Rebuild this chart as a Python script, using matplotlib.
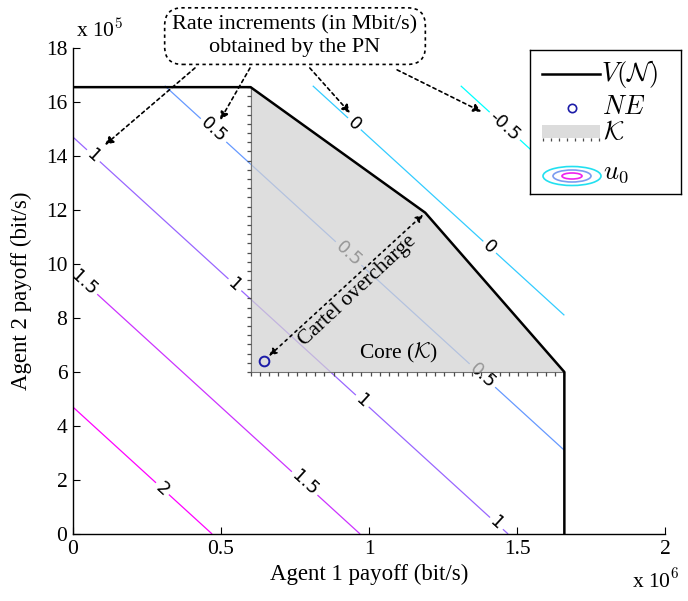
"""Core / Nash equilibrium payoff region with u0 rate-increment contours."""

import numpy as np
import matplotlib
matplotlib.use("Agg")
import matplotlib.pyplot as plt
from matplotlib.patches import Polygon, Ellipse, Rectangle

plt.rcParams["font.family"] = "Liberation Serif"
plt.rcParams["mathtext.fontset"] = "cm"

# Grand coalition frontier V(N) (bit/s)
v_x = [0, 0.6e6, 1.19e6, 1.66e6, 1.66e6]
v_y = [16.55e5, 16.55e5, 11.9e5, 6.0e5, 0]

# Core K polygon
core_x = [0.6e6, 0.6e6, 1.66e6, 1.19e6, 0.6e6]
core_y = [16.55e5, 6.0e5, 6.0e5, 11.9e5, 16.55e5]

# Nash equilibrium
ne_x, ne_y = 0.645e6, 6.42e5

# u0 (Mbit/s) = (u0_sum - x1 - x2) / 1e6, drawn over [0, grid_max]^2
u0_sum = 2.47e6
grid_max = 1.66e6
u0_levels = [-0.5, 0, 0.5, 1, 1.5, 2]
label_pos = [(0.304e6, 1.70e5), (0.784e6, 1.89e5), (1.432e6, 0.41e5),
             (0.98e6, 4.96e5), (0.04e6, 9.33e5), (0.068e6, 14.0e5),
             (0.571e6, 9.52e5), (0.473e6, 14.93e5), (0.926e6, 10.33e5),
             (1.38e6, 5.83e5), (0.953e6, 15.22e5), (1.405e6, 10.59e5),
             (1.453e6, 15.04e5)]

# PN annotation arrows: (start, target)
pn_arrows = [((0.412e6, 17.26e5), (0.108e6, 14.41e5)),
             ((0.598e6, 17.26e5), (0.497e6, 15.33e5)),
             ((0.80e6, 17.26e5), (0.936e6, 15.59e5)),
             ((1.095e6, 17.19e5), (1.38e6, 15.64e5))]

x_ticks = [0, 0.5e6, 1e6, 1.5e6, 2e6]
x_tick_labels = ["0", "0.5", "1", "1.5", "2"]
y_ticks = np.arange(0, 19e5, 2e5)
y_tick_labels = [str(int(t / 1e5)) for t in y_ticks]

fig = plt.figure(figsize=(6.88, 6.01), dpi=100)
ax = fig.add_axes([73 / 688, 1 - 534 / 601, 592 / 688, 486 / 601])
ax.set_xlim(0, 2e6)
ax.set_ylim(0, 18e5)

# contours
gx = np.linspace(0, grid_max, 300)
X, Y = np.meshgrid(gx, gx)
Z = (u0_sum - X - Y) / 1e6
cs = ax.contour(X, Y, Z, levels=u0_levels, cmap="cool", linewidths=0.9)
with plt.rc_context({"font.family": "DejaVu Sans"}):
    ax.clabel(cs, manual=label_pos, fmt="%g", fontsize=13, colors="k",
              inline=True, inline_spacing=3)

# core region
ax.add_patch(Polygon(list(zip(core_x, core_y)), closed=True, fc="#d2d2d2",
                     ec="none", alpha=0.72, zorder=4))
ax.plot([core_x[0], core_x[1], core_x[2]], [core_y[0], core_y[1], core_y[2]],
        color="0.45", lw=0.8, zorder=4.5)
ax.plot(np.full(32, core_x[0]), np.linspace(core_y[1], core_y[0], 32),
        ls="none", marker=0, ms=3, mew=0.9, color="0.3", zorder=4.5)
ax.plot(np.linspace(core_x[1], core_x[2], 35), np.full(35, core_y[1]),
        ls="none", marker=3, ms=3, mew=0.9, color="0.3", zorder=4.5)

ax.plot(v_x, v_y, color="k", lw=1.8, zorder=5)
ax.plot(ne_x, ne_y, "o", mfc="none", mec="#1c1ca8", ms=7, mew=1.4, zorder=6)

# cartel overcharge
ax.annotate("", xy=(v_x[2], v_y[2]), xytext=(ne_x, ne_y),
            arrowprops=dict(arrowstyle="<|-|>", ls=(0, (1.5, 2.5)), lw=1.2,
                            color="k", shrinkA=5, shrinkB=2, mutation_scale=11),
            zorder=6)
ax.text(0.963e6, 9.0e5, "Cartel overcharge", rotation=43, fontsize=15.5,
        ha="center", va="center", rotation_mode="anchor", zorder=6)
ax.text(1.1e6, 6.7e5, r"Core ($\mathcal{K}$)", fontsize=15.5, ha="center",
        va="center", zorder=6)

# PN annotation
ax.text(0.75e6, 18.44e5, "Rate increments (in Mbit/s)\nobtained by the PN",
        fontsize=16, ha="center", va="center", linespacing=1.2, zorder=7,
        clip_on=False,
        bbox=dict(boxstyle="round,pad=0.35,rounding_size=0.8", fc="white",
                  ec="k", ls=(0, (2, 2)), lw=1.2))
for start, target in pn_arrows:
    ax.annotate("", xy=target, xytext=start, annotation_clip=False,
                arrowprops=dict(arrowstyle="-|>", ls=(0, (2, 2)), lw=1.2,
                                color="k", shrinkA=0, shrinkB=0,
                                mutation_scale=12), zorder=6)

# axes styling
for side in ["top", "right"]:
    ax.spines[side].set_visible(False)
ax.spines["left"].set_linewidth(1.0)
ax.spines["bottom"].set_linewidth(1.0)
ax.set_xticks(x_ticks)
ax.set_xticklabels(x_tick_labels)
ax.set_yticks(y_ticks)
ax.set_yticklabels(y_tick_labels)
ax.tick_params(direction="in", length=5, labelsize=15.5, pad=4)
ax.set_xlabel("Agent 1 payoff (bit/s)", fontsize=16.5, labelpad=4)
ax.set_ylabel("Agent 2 payoff (bit/s)", fontsize=16.5, labelpad=10)
ax.text(0.005, 1.012, r"x 10$^5$", transform=ax.transAxes, fontsize=15.5,
        ha="left", va="bottom")
ax.text(1.025, -0.072, r"x 10$^6$", transform=ax.transAxes, fontsize=15.5,
        ha="right", va="top")

# legend
lg = fig.add_axes([530 / 688, 1 - 194 / 601, 151 / 688, 144 / 601])
lg.set_xlim(0, 151)
lg.set_ylim(144, 0)
lg.set_xticks([])
lg.set_yticks([])
for s in lg.spines.values():
    s.set_linewidth(1.0)
lg.plot([12, 70], [24, 24], color="k", lw=1.8)
lg.text(71, 24, r"$V(\mathcal{N})$", fontsize=19, va="center")
lg.plot(42, 58, "o", mfc="none", mec="#1c1ca8", ms=6, mew=1.2)
lg.text(72, 57, r"$NE$", fontsize=19, va="center")
lg.add_patch(Rectangle((12, 75), 58, 13, fc="#dcdcdc", ec="none"))
lg.plot(np.linspace(13, 69, 8), np.full(8, 88), ls="none", marker=3, ms=2.5,
        mew=0.9, color="0.3")
lg.text(73, 82, r"$\mathcal{K}$", fontsize=19, va="center")
for (w, h), c in zip([(58, 19), (38, 12), (20, 6)], ["#22e0f0", "#7b9cf0", "#ee22ee"]):
    lg.add_patch(Ellipse((42, 126), w, h, fc="none", ec=c, lw=1.2))
lg.text(73, 124, r"$u_0$", fontsize=19, va="center")

plt.savefig("out.png", dpi=100)
